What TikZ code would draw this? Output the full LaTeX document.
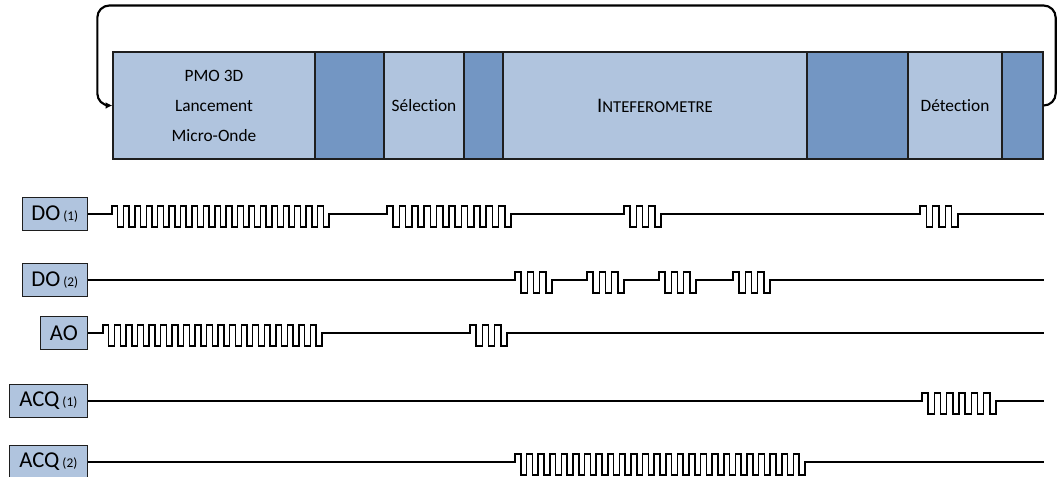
\documentclass[tikz,border=0pt]{standalone}
\usepackage{fontspec}
\setmainfont{Carlito}[Ligatures={NoCommon}]
\usetikzlibrary{positioning,arrows.meta}
\definecolor{seqLight}{HTML}{B0C4DE}
\definecolor{seqDark}{HTML}{7396C3}
\definecolor{seqEdge}{HTML}{1E1E1E}

% one pulse train: #1 periods, #2 half period (px), ends back on the base line
\newcommand{\pulsetrain}[2]{-- ++(0,-8) \foreach \k in {2,...,#1}{ -- ++(#2,0) -- ++(0,21) -- ++(#2,0) -- ++(0,-21)} -- ++(#2,0) -- ++(0,21) -- ++(#2,0) -- ++(0,-13)}
\newcommand{\chanlabel}[2]{{\fontsize{17}{20}\selectfont #1}\ifx&#2&\else\ {\fontsize{10}{11}\selectfont (#2)}\fi}

\begin{document}
\begin{tikzpicture}[
    x=0.75pt, y=-0.75pt,
    phase/.style={draw=seqEdge, line width=1pt, minimum height=80.25pt, inner sep=0pt, font=\fontsize{13}{22.5}\selectfont, align=center},
    light/.style={phase, fill=seqLight},
    dark/.style={phase, fill=seqDark},
    chan/.style={draw=seqEdge, line width=1pt, fill=seqLight, minimum height=24.75pt, inner sep=0pt, anchor=east},
    signal/.style={line width=1.1pt, line join=miter},
    loop/.style={line width=1.6pt, rounded corners=9pt, -{Latex[length=5pt,width=5pt]}}
]
\useasboundingbox (0,0) rectangle (1059,476);

% ===== SEQUENCE PHASES =====
\node[light, minimum width=151.5pt] (pmo) at (214,105.5) {PMO 3D\\Lancement\\Micro-Onde};
\node[dark, minimum width=51.75pt] (gap1) at (349.5,105.5) {};
\node[light, minimum width=60pt] (sel) at (424,105.5) {Sélection};
\node[dark, minimum width=29.25pt] (gap2) at (483.5,105.5) {};
\node[light, minimum width=228pt] (inter) at (655,105.5) {{\fontsize{15.5}{18}\selectfont I}{\fontsize{12.5}{14}\selectfont NTEFEROMETRE}};
\node[dark, minimum width=75.75pt] (gap3) at (857.5,105.5) {};
\node[light, minimum width=70.5pt] (det) at (955,105.5) {Détection};
\node[dark, minimum width=30.75pt] (gap4) at (1022.5,105.5) {};

% loop back to start
\draw[loop] (gap4.east) -- ++(12,0) -- ++(0,-100) -| ([xshift=-11.25pt]pmo.west) -- (pmo.west);

% ===== CHANNELS =====
\node[chan, minimum width=48.75pt] (do1) at (88,214) {\chanlabel{DO}{1}};
\node[chan, minimum width=48.75pt] (do2) at (88,280) {\chanlabel{DO}{2}};
\node[chan, minimum width=35.25pt] (ao) at (88,333) {\chanlabel{AO}{}};
\node[chan, minimum width=58.5pt] (acq1) at (88,401) {\chanlabel{ACQ}{1}};
\node[chan, minimum width=58.5pt] (acq2) at (88,462) {\chanlabel{ACQ}{2}};

% ===== SIGNALS =====
\draw[signal] (do1.east) -- (112,214) \pulsetrain{19}{5.71} -- (387,214) \pulsetrain{10}{6.2}
  -- (624,214) \pulsetrain{3}{6.17} -- (920,214) \pulsetrain{3}{6.33} -- (1044,214);
\draw[signal] (do2.east) -- (515,280) \pulsetrain{3}{6.17} -- (587,280) \pulsetrain{3}{6.17}
  -- (659,280) \pulsetrain{3}{6.17} -- (733,280) \pulsetrain{3}{6.17} -- (1044,280);
\draw[signal] (ao.east) -- (103,333) \pulsetrain{19}{5.76} -- (470,333) \pulsetrain{3}{6.17} -- (1044,333);
\draw[signal] (acq1.east) -- (922,401) \pulsetrain{6}{6.17} -- (1044,401);
\draw[signal] (acq2.east) -- (515,462) \pulsetrain{25}{5.8} -- (1044,462);

\end{tikzpicture}
\end{document}
